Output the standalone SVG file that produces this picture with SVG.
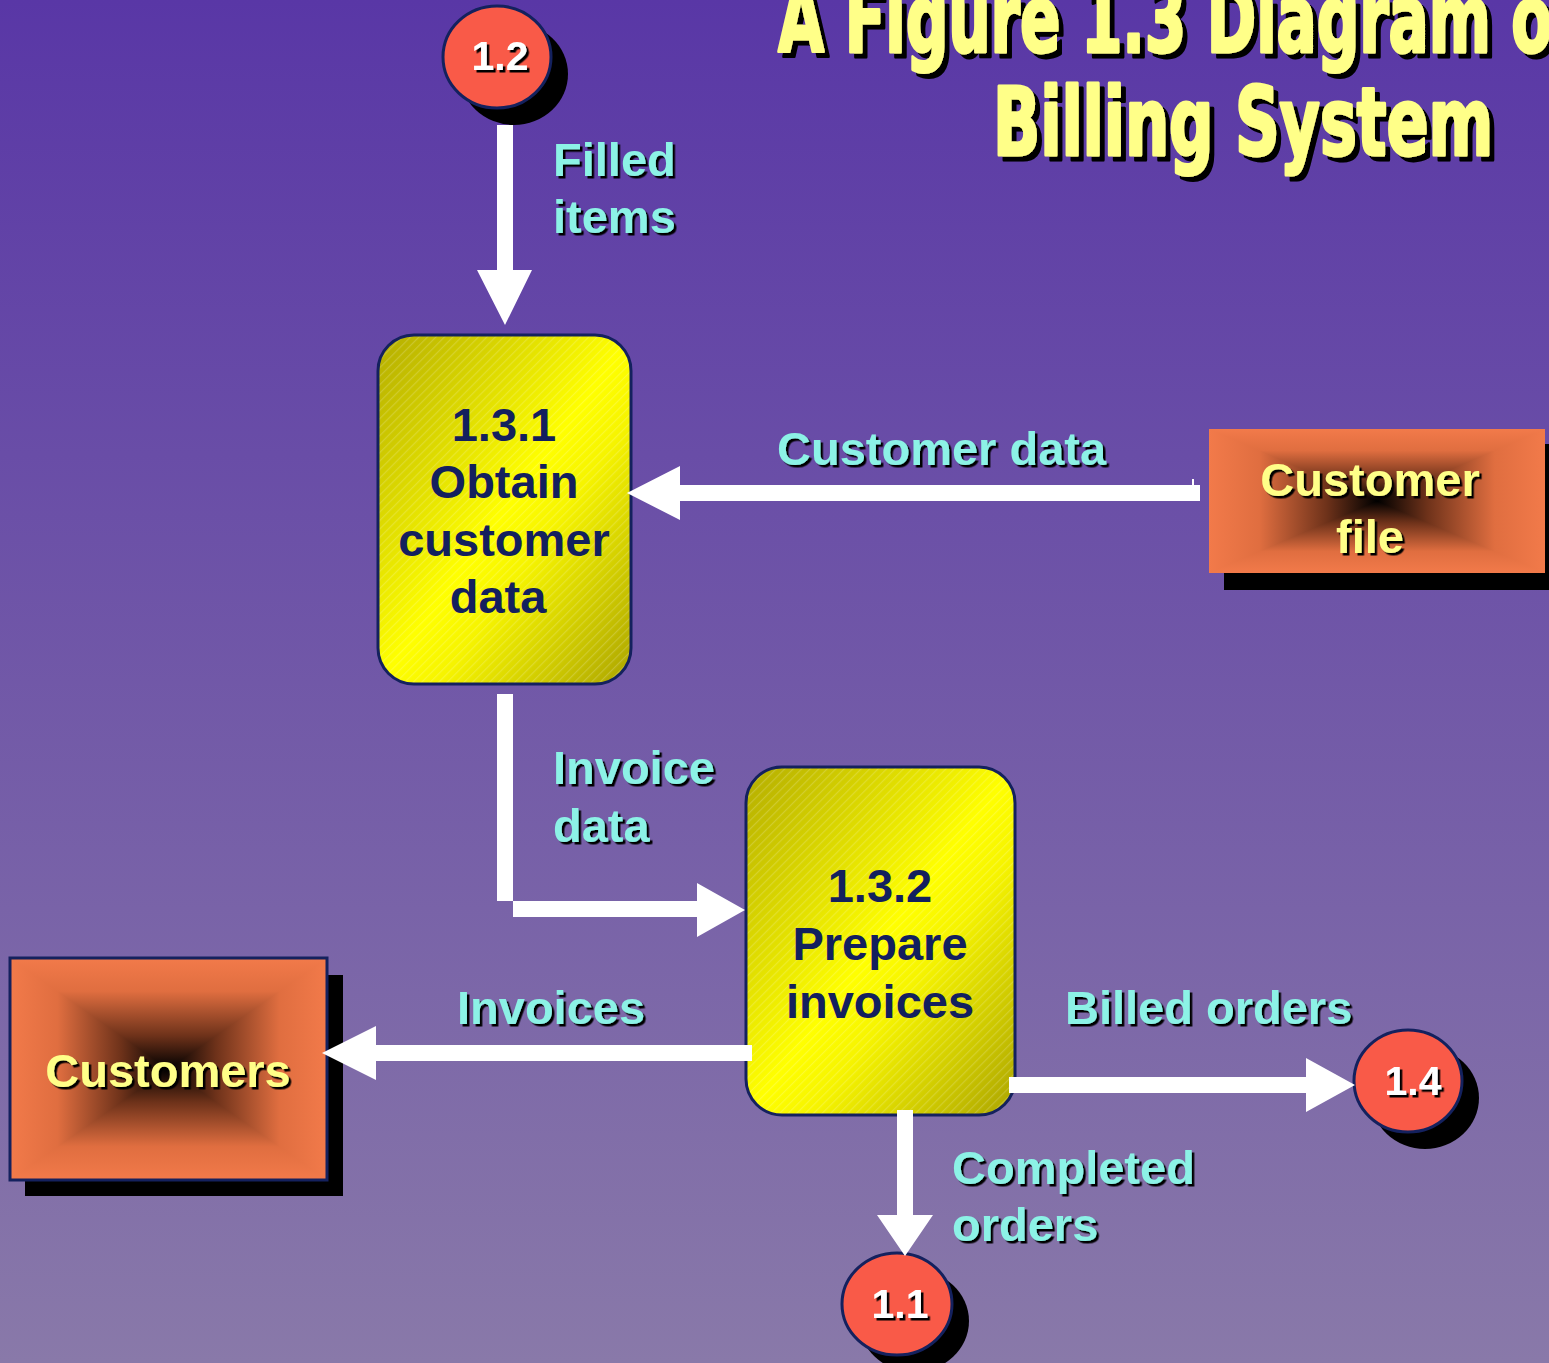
<svg xmlns="http://www.w3.org/2000/svg" width="1549" height="1363" viewBox="0 0 1549 1363">
<defs>
  <linearGradient id="bg" x1="0" y1="0" x2="0" y2="1">
    <stop offset="0" stop-color="#5937A6"/>
    <stop offset="1" stop-color="#8979A9"/>
  </linearGradient>
  <linearGradient id="yel" x1="0" y1="0" x2="1" y2="1">
    <stop offset="0" stop-color="#B3AC00"/>
    <stop offset="0.5" stop-color="#FFFF00"/>
    <stop offset="0.62" stop-color="#F6F400"/>
    <stop offset="1" stop-color="#ABA400"/>
  </linearGradient>
  <pattern id="hatch" width="6" height="6" patternUnits="userSpaceOnUse" patternTransform="rotate(45)">
    <rect x="0" y="0" width="1.2" height="6" fill="#ffffff" fill-opacity="0.18"/>
  </pattern>
  <linearGradient id="gT" x1="0" y1="0" x2="0" y2="1">
    <stop offset="0" stop-color="#F27A4A"/><stop offset="0.3" stop-color="#E06E40"/><stop offset="0.7" stop-color="#6E321A"/><stop offset="1" stop-color="#000"/>
  </linearGradient>
  <linearGradient id="gB" x1="0" y1="1" x2="0" y2="0">
    <stop offset="0" stop-color="#F27A4A"/><stop offset="0.3" stop-color="#E06E40"/><stop offset="0.7" stop-color="#6E321A"/><stop offset="1" stop-color="#000"/>
  </linearGradient>
  <linearGradient id="gL" x1="0" y1="0" x2="1" y2="0">
    <stop offset="0" stop-color="#F27A4A"/><stop offset="0.3" stop-color="#E06E40"/><stop offset="0.7" stop-color="#6E321A"/><stop offset="1" stop-color="#000"/>
  </linearGradient>
  <linearGradient id="gR" x1="1" y1="0" x2="0" y2="0">
    <stop offset="0" stop-color="#F27A4A"/><stop offset="0.3" stop-color="#E06E40"/><stop offset="0.7" stop-color="#6E321A"/><stop offset="1" stop-color="#000"/>
  </linearGradient>
  <filter id="sh" x="-5%" y="-5%" width="115%" height="120%">
    <feDropShadow dx="2.5" dy="2.5" stdDeviation="0" flood-color="#000"/>
  </filter>
  <filter id="shT" x="-5%" y="-5%" width="115%" height="120%">
    <feDropShadow dx="5" dy="5" stdDeviation="0" flood-color="#000"/>
  </filter>
</defs>
<style>
  .lbl { font-family: "Liberation Sans", Arial, sans-serif; font-weight: bold; font-size: 47px; fill: #8CF2E6; filter: url(#sh); }
  .ptxt { font-family: "Liberation Sans", Arial, sans-serif; font-weight: bold; font-size: 47px; fill: #13205E; text-anchor: middle; }
  .etxt { font-family: "Liberation Sans", Arial, sans-serif; font-weight: bold; font-size: 47px; fill: #FFFF88; text-anchor: middle; filter: url(#sh); }
  .ctxt { font-family: "Liberation Sans", Arial, sans-serif; font-weight: bold; font-size: 41px; fill: #FFFFFF; text-anchor: middle; filter: url(#sh); }
  .title { font-family: "Liberation Sans Narrow", "DejaVu Sans Condensed", "Liberation Sans", sans-serif; font-weight: bold; font-size: 94px; fill: #FFFF88; stroke: #FFFF88; stroke-width: 3; stroke-linejoin: round; filter: url(#shT); }
  .circ { fill: #F95A48; stroke: #14215E; stroke-width: 3; }
  .flow { fill: #FFFFFF; }
</style>

<rect x="0" y="0" width="1549" height="1363" fill="url(#bg)"/>

<g id="title">
  <text class="title" x="778" y="52" textLength="800" lengthAdjust="spacingAndGlyphs">A Figure 1.3 Diagram of</text>
  <text class="title" x="993" y="155" textLength="500" lengthAdjust="spacingAndGlyphs">Billing System</text>
</g>

<g id="node-1-2">
  <ellipse cx="514" cy="74" rx="54" ry="51" fill="#000"/>
  <ellipse class="circ" cx="497" cy="57" rx="54" ry="51"/>
  <text class="ctxt" x="500" y="70">1.2</text>
</g>

<g id="node-1-3-1">
  <rect x="378" y="335" width="253" height="349" rx="36" fill="url(#yel)"/>
  <rect x="378" y="335" width="253" height="349" rx="36" fill="url(#hatch)"/>
  <rect x="378" y="335" width="253" height="349" rx="36" fill="none" stroke="#14215E" stroke-width="3"/>
  <text class="ptxt" x="504" y="441">1.3.1</text>
  <text class="ptxt" x="504" y="498">Obtain</text>
  <text class="ptxt" x="504" y="556">customer</text>
  <text class="ptxt" x="498" y="613">data</text>
</g>

<g id="node-customer-file">
  <rect x="1224" y="444" width="330" height="146" fill="#000"/>
  <rect x="1209" y="429" width="336" height="72" fill="url(#gT)"/>
  <rect x="1209" y="501" width="336" height="72" fill="url(#gB)"/>
  <path d="M1209,429 V573 L1377,501 Z" fill="url(#gL)"/>
  <path d="M1545,429 V573 L1377,501 Z" fill="url(#gR)"/>
  <text class="etxt" x="1370" y="496">Customer</text>
  <text class="etxt" x="1370" y="553">file</text>
</g>

<g id="node-1-3-2">
  <rect x="746" y="767" width="269" height="348" rx="36" fill="url(#yel)"/>
  <rect x="746" y="767" width="269" height="348" rx="36" fill="url(#hatch)"/>
  <rect x="746" y="767" width="269" height="348" rx="36" fill="none" stroke="#14215E" stroke-width="3"/>
  <text class="ptxt" x="880" y="902">1.3.2</text>
  <text class="ptxt" x="880" y="960">Prepare</text>
  <text class="ptxt" x="880" y="1018">invoices</text>
</g>

<g id="node-customers">
  <rect x="25" y="975" width="318" height="221" fill="#000"/>
  <rect x="10" y="958" width="317" height="111" fill="url(#gT)"/>
  <rect x="10" y="1069" width="317" height="111" fill="url(#gB)"/>
  <path d="M10,958 V1180 L168.5,1069 Z" fill="url(#gL)"/>
  <path d="M327,958 V1180 L168.5,1069 Z" fill="url(#gR)"/>
  <rect x="10" y="958" width="317" height="222" fill="none" stroke="#14215E" stroke-width="3"/>
  <text class="etxt" x="168" y="1087">Customers</text>
</g>

<g id="node-1-4">
  <ellipse cx="1425" cy="1098" rx="54" ry="51" fill="#000"/>
  <ellipse class="circ" cx="1408" cy="1081" rx="54" ry="51"/>
  <text class="ctxt" x="1413" y="1095">1.4</text>
</g>

<g id="node-1-1">
  <ellipse cx="914" cy="1321" rx="55" ry="51" fill="#000"/>
  <ellipse class="circ" cx="897" cy="1304" rx="55" ry="51"/>
  <text class="ctxt" x="900" y="1318">1.1</text>
</g>

<g id="connectors">
  <!-- Filled items: 1.2 -> 1.3.1 -->
  <path class="flow" d="M497,125 H513 V270 H532 L505,325 L477,270 H497 Z"/>
  <!-- Customer data: Customer file -> 1.3.1 -->
  <path class="flow" d="M1200,485 V501 H680 V520 L627,493 L680,466 V485 Z"/>
  <rect class="flow" x="1192" y="479" width="2" height="7"/>
  <!-- Invoice data: 1.3.1 -> 1.3.2 -->
  <rect class="flow" x="497" y="694" width="16" height="207"/>
  <path class="flow" d="M513,901 H697 V883 L745,910 L697,937 V917 H513 Z"/>
  <!-- Invoices: 1.3.2 -> Customers -->
  <path class="flow" d="M752,1045 V1061 H376 V1080 L322,1053 L376,1026 V1045 Z"/>
  <!-- Billed orders: 1.3.2 -> 1.4 -->
  <path class="flow" d="M1009,1077 H1306 V1058 L1355,1085 L1306,1112 V1093 H1009 Z"/>
  <!-- Completed orders: 1.3.2 -> 1.1 -->
  <path class="flow" d="M897,1110 H913 V1215 H933 L905,1256 L877,1215 H897 Z"/>
  <text class="lbl" x="553" y="176">Filled</text>
  <text class="lbl" x="553" y="233">items</text>
  <text class="lbl" x="777" y="465">Customer data</text>
  <text class="lbl" x="553" y="784">Invoice</text>
  <text class="lbl" x="553" y="842">data</text>
  <text class="lbl" x="457" y="1024">Invoices</text>
  <text class="lbl" x="1065" y="1024">Billed orders</text>
  <text class="lbl" x="952" y="1184">Completed</text>
  <text class="lbl" x="952" y="1241">orders</text>
</g>
</svg>
